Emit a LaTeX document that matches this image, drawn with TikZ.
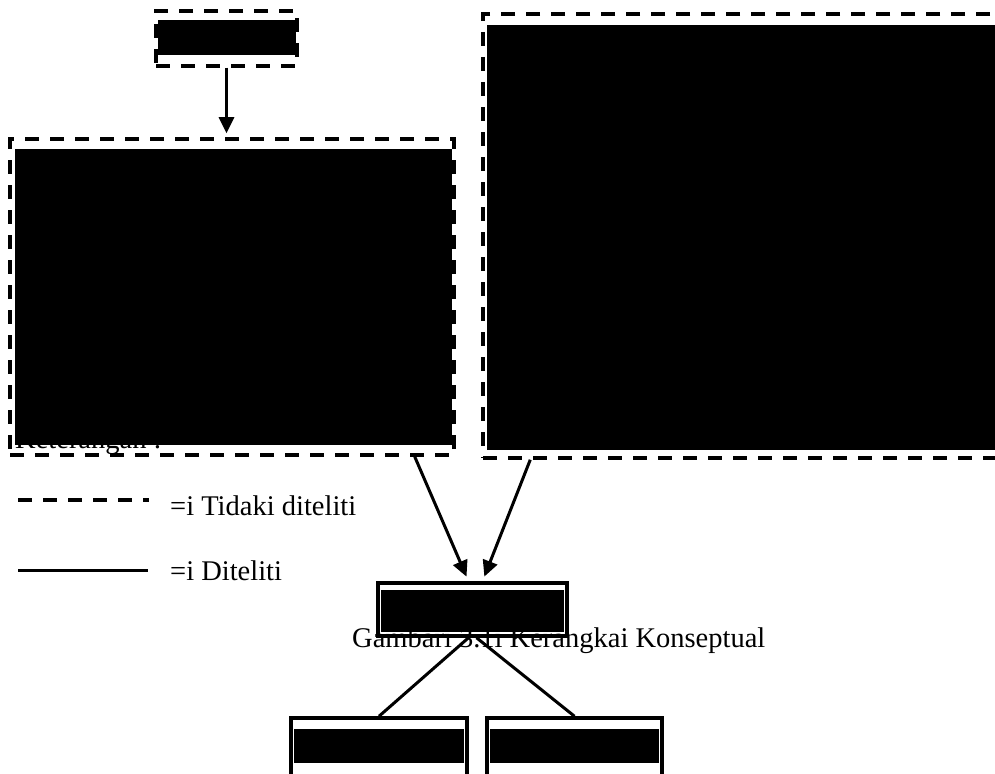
\documentclass[tikz,border=0pt]{standalone}
\usepackage{fontspec}
\setmainfont{Liberation Serif}
\usetikzlibrary{arrows.meta,fit}
\begin{document}
\begin{tikzpicture}[x=1pt,y=-1pt,
  dashbox/.style={draw, line width=3.5pt, dash pattern=on 14pt off 11pt},
  solidbox/.style={draw, line width=3.5pt},
  link/.style={line width=3pt},
  arrowlink/.style={line width=3pt, -{Triangle[length=16pt,width=15pt]}},
  txt/.style={font=\fontsize{28.5}{32}\selectfont, inner sep=0pt, anchor=base west}]
\useasboundingbox (0,0) rectangle (995,773);

% heading under the left panel, mostly covered by it
\node[txt] (note) at (15,448) {Keterangan :};

% panel corners
\coordinate (src1) at (156,11);   \coordinate (src2) at (297,66);
\coordinate (lb1) at (10,139);    \coordinate (lb2) at (454,455);
\coordinate (rb1) at (483,14);    \coordinate (rb2) at (1002,458);
\coordinate (mb1) at (378,583);   \coordinate (mb2) at (567,636);
\coordinate (bl1) at (291,718);   \coordinate (bl2) at (467,790);
\coordinate (br1) at (487,718);   \coordinate (br2) at (662,790);

% filled (blacked-out) contents
\fill (158,20) rectangle (296,55);
\fill (15,149) rectangle (452,445);
\fill (487,25) rectangle (995,450);

% caption
\node[txt] (caption) at (352,647) {Gambari 3.1i Kerangkai Konseptual};

\fill (381,590) rectangle (564,632);
\fill (294,729) rectangle (464,763);
\fill (490,729) rectangle (659,763);

% outlines as named nodes
\node[dashbox, inner sep=0pt, fit=(src1)(src2)] (src) {};
\node[dashbox, inner sep=0pt, fit=(lb1)(lb2)] (lbox) {};
\node[dashbox, inner sep=0pt, fit=(rb1)(rb2)] (rbox) {};
\node[solidbox, inner sep=0pt, fit=(mb1)(mb2)] (mid) {};
\node[solidbox, inner sep=0pt, fit=(bl1)(bl2)] (bl) {};
\node[solidbox, inner sep=0pt, fit=(br1)(br2)] (br) {};

% connectors
\draw[arrowlink, shorten >=4pt] (src.south) -- (lbox.north -| src.south);
\draw[arrowlink, shorten >=5pt] ([xshift=-41pt]lbox.south east) -- ([xshift=-4pt]mid.north);
\draw[arrowlink, shorten >=5pt] ([xshift=49pt]rbox.south west) -- ([xshift=10pt]mid.north);
\draw[link] ([xshift=-4pt]mid.south) -- (bl.north);
\draw[link] ([xshift=4pt]mid.south) -- (br.north);

% legend
\coordinate (d1) at (18,500);
\coordinate (d2) at (149,500);
\coordinate (s1) at (18,570);
\coordinate (s2) at (148,570);
\draw[line width=4pt, dash pattern=on 14pt off 11pt] (d1) -- (d2);
\draw[line width=3pt] (s1) -- (s2);
\node[txt] (ldash) at (170,515) {=i Tidaki diteliti};
\node[txt] (lsolid) at (170,580) {=i Diteliti};
\end{tikzpicture}
\end{document}
